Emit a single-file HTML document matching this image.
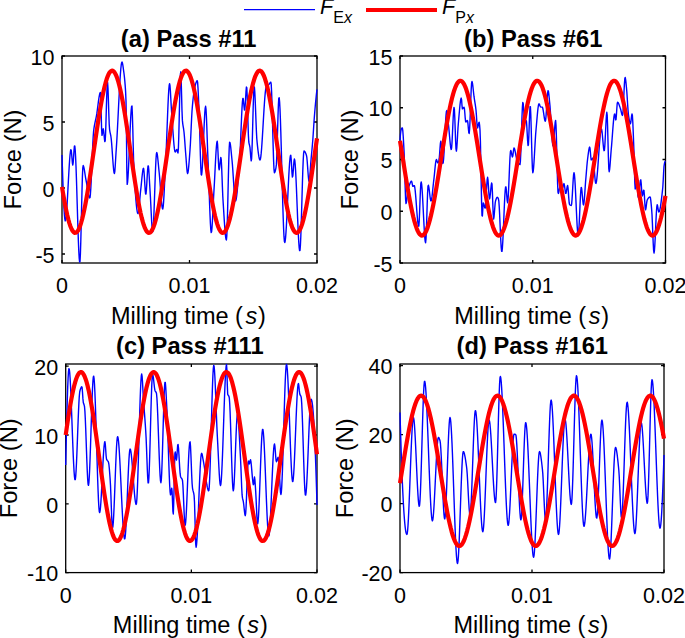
<!DOCTYPE html><html><head><meta charset="utf-8"><style>html,body{margin:0;padding:0;background:#fff;}svg{display:block;}text{font-family:"Liberation Sans",sans-serif;fill:#000;}</style></head><body>
<svg width="685" height="638" viewBox="0 0 685 638">
<rect width="685" height="638" fill="#fff"/>
<clipPath id="clipa"><rect x="59" y="55.5" width="261" height="208"/></clipPath>
<rect x="62" y="56" width="255" height="207" fill="none" stroke="#000" stroke-width="1.3"/>
<path d="M62,263 V260 M62,56 V59 M189.5,263 V260 M189.5,56 V59 M317,263 V260 M317,56 V59 M62,56 H65 M317,56 H314 M62,122 H65 M317,122 H314 M62,188 H65 M317,188 H314 M62,254 H65 M317,254 H314" stroke="#000" stroke-width="1.3" fill="none"/>
<path d="M62,155 L62.4,167.54 L62.8,179.42 L63.2,190.35 L63.6,200.06 L64,208.25 L64.4,214.65 L64.8,218.97 L65.2,220.92 L65.6,220.43 L66,218.03 L66.4,214.04 L66.8,208.75 L67.2,202.46 L67.6,195.47 L68,188.07 L68.4,180.56 L68.8,173.23 L69.2,166.39 L69.6,160.32 L70,155.33 L70.4,151.71 L70.8,149.76 L71.2,150.03 L71.6,153.52 L72,158.54 L72.4,163.04 L72.8,165 L73.2,162.53 L73.6,156.83 L74,150.48 L74.4,146.07 L74.8,145.91 L75.2,149.72 L75.6,156.73 L76,166.29 L76.4,177.78 L76.8,190.55 L77.2,203.95 L77.6,217.35 L78,230.12 L78.4,241.61 L78.8,251.17 L79.2,258.18 L79.6,261.99 L80,261.47 L80.4,254.05 L80.8,241.18 L81.2,224.94 L81.6,207.4 L82,190.65 L82.4,176.74 L82.8,167.76 L83.2,165.53 L83.6,166.3 L84,167.88 L84.4,170.06 L84.8,172.6 L85.2,175.26 L85.6,177.8 L86,180 L86.4,182.12 L86.8,184.49 L87.2,186.99 L87.6,189.5 L88,191.9 L88.4,194.06 L88.8,195.86 L89.2,197.18 L89.6,197.9 L90,197.56 L90.4,194.31 L90.8,188.45 L91.2,180.67 L91.6,171.63 L92,162.02 L92.4,152.5 L92.8,143.75 L93.2,136.46 L93.6,131.28 L94,128.19 L94.4,125.69 L94.8,123.56 L95.2,121.68 L95.6,119.89 L96,118.06 L96.4,116.05 L96.8,113.69 L97.2,110.91 L97.6,107.88 L98,104.74 L98.4,101.65 L98.8,98.78 L99.2,96.27 L99.6,94.28 L100,92.97 L100.4,92.5 L100.8,99.2 L101.2,113.95 L101.6,128.7 L102,135.4 L102.4,133.69 L102.8,130.51 L103.2,128.8 L103.6,130.47 L104,134.3 L104.4,138.58 L104.8,141.55 L105.2,140.91 L105.6,133.32 L106,120.95 L106.4,106.74 L106.8,93.64 L107.2,84.58 L107.6,82.5 L108,88.67 L108.4,100.1 L108.8,113.13 L109.2,124.1 L109.6,129.61 L110,132.06 L110.4,133.85 L110.8,135.76 L111.2,138.6 L111.6,142.85 L112,148.1 L112.4,153.88 L112.8,159.69 L113.2,165.05 L113.6,169.48 L114,172.49 L114.4,173.6 L114.8,171.58 L115.2,166.5 L115.6,159.82 L116,153 L116.4,147.1 L116.8,140.67 L117.2,133.54 L117.6,125.9 L118,117.94 L118.4,109.85 L118.8,101.81 L119.2,94.01 L119.6,86.65 L120,79.9 L120.4,73.96 L120.8,69.01 L121.2,65.24 L121.6,62.84 L122,62 L122.4,62.83 L122.8,64.92 L123.2,67.71 L123.6,70.6 L124,73.51 L124.4,76.86 L124.8,80.85 L125.2,85.65 L125.6,91.64 L126,100.73 L126.4,126.03 L126.8,169.12 L127.2,184.4 L127.6,182.11 L128,177.21 L128.4,170.25 L128.8,161.79 L129.2,152.37 L129.6,142.53 L130,132.83 L130.4,123.82 L130.8,116.05 L131.2,110.05 L131.6,106.39 L132,105.99 L132.4,115.21 L132.8,128.8 L133.2,145.58 L133.6,160.3 L134,168.52 L134.4,176.25 L134.8,183.43 L135.2,189.99 L135.6,195.88 L136,201.04 L136.4,205.4 L136.8,208.89 L137.2,211.47 L137.6,213.06 L138,213.6 L138.4,212.62 L138.8,209.99 L139.2,206.2 L139.6,201.74 L140,197.1 L140.4,192.76 L140.8,189.15 L141.2,185.38 L141.6,181.28 L142,177.19 L142.4,173.49 L142.8,170.52 L143.2,168.66 L143.6,168.34 L144,171.39 L144.4,177.13 L144.8,183.91 L145.2,190.06 L145.6,193.94 L146,193.93 L146.4,189.97 L146.8,183.59 L147.2,176.41 L147.6,170.03 L148,166.07 L148.4,166.06 L148.8,169.93 L149.2,176.22 L149.6,183.42 L150,190 L150.4,196.67 L150.8,204.55 L151.2,212.77 L151.6,220.47 L152,226.77 L152.4,230.79 L152.8,231.65 L153.2,228.39 L153.6,221.56 L154,212.12 L154.4,201 L154.8,189.18 L155.2,177.59 L155.6,167.19 L156,158.94 L156.4,153.77 L156.8,152.56 L157.2,153.92 L157.6,156.71 L158,160.46 L158.4,164.68 L158.8,168.91 L159.2,172.73 L159.6,177.08 L160,182.15 L160.4,187.61 L160.8,193.1 L161.2,198.28 L161.6,202.8 L162,206.31 L162.4,208.47 L162.8,208.9 L163.2,206.62 L163.6,201.83 L164,195.15 L164.4,187.2 L164.8,178.63 L165.2,170.06 L165.6,162.11 L166,154.48 L166.4,145.43 L166.8,135.39 L167.2,124.93 L167.6,114.57 L168,104.88 L168.4,96.39 L168.8,89.65 L169.2,85.2 L169.6,83.6 L170,85.75 L170.4,91.17 L170.8,98.37 L171.2,105.82 L171.6,112 L172,117.36 L172.4,123.15 L172.8,129.1 L173.2,134.91 L173.6,140.3 L174,144.99 L174.4,148.7 L174.8,151.13 L175.2,152 L175.6,151.65 L176,150.86 L176.4,150.02 L176.8,149.52 L177.2,150.14 L177.6,151.95 L178,153 L178.4,148.16 L178.8,135.75 L179.2,118.97 L179.6,101 L180,85.01 L180.4,74.2 L180.8,71.82 L181.2,80.43 L181.6,95.48 L182,110.84 L182.4,120.4 L182.8,124.11 L183.2,126.66 L183.6,128.98 L184,132 L184.4,136.37 L184.8,141.66 L185.2,147.26 L185.6,152.51 L186,157.48 L186.4,163.03 L186.8,168.23 L187.2,172.09 L187.6,173.6 L188,172.57 L188.4,169.77 L188.8,165.67 L189.2,160.7 L189.6,155.33 L190,150 L190.4,143.69 L190.8,135.72 L191.2,127.03 L191.6,118.58 L192,111.31 L192.4,106.08 L192.8,101.84 L193.2,97.97 L193.6,94.52 L194,91.54 L194.4,89.09 L194.8,87.2 L195.2,85.63 L195.6,84.14 L196,82.81 L196.4,81.73 L196.8,80.97 L197.2,80.62 L197.6,82.11 L198,87.9 L198.4,96.35 L198.8,105.62 L199.2,114.8 L199.6,127.29 L200,141.75 L200.4,155.94 L200.8,167.62 L201.2,174.53 L201.6,175.04 L202,171.67 L202.4,165.6 L202.8,157.56 L203.2,148.26 L203.6,138.43 L204,128.78 L204.4,120.02 L204.8,112.88 L205.2,108.06 L205.6,106.3 L206,109.04 L206.4,116.27 L206.8,126.49 L207.2,138.18 L207.6,149.85 L208,160 L208.4,169.81 L208.8,180.94 L209.2,192.64 L209.6,204.13 L210,214.64 L210.4,223.39 L210.8,229.63 L211.2,232.57 L211.6,231.7 L212,227.67 L212.4,221.34 L212.8,213.56 L213.2,205.18 L213.6,197.04 L214,190 L214.4,183.15 L214.8,175.38 L215.2,167.28 L215.6,159.39 L216,152.27 L216.4,146.49 L216.8,142.62 L217.2,141.2 L217.6,144.49 L218,152.22 L218.4,161.15 L218.8,168.07 L219.2,169.89 L219.6,167.6 L220,163.65 L220.4,159.7 L220.8,157.41 L221.2,159.11 L221.6,166 L222,176 L222.4,186.87 L222.8,196.42 L223.2,203.1 L223.6,209.49 L224,215.93 L224.4,222.14 L224.8,227.83 L225.2,232.74 L225.6,236.59 L226,239.1 L226.4,240 L226.8,236.03 L227.2,225.51 L227.6,210.55 L228,193.23 L228.4,175.64 L228.8,159.89 L229.2,148.07 L229.6,142.26 L230,142.52 L230.4,144.62 L230.8,147.87 L231.2,151.83 L231.6,156.03 L232,160 L232.4,164.39 L232.8,169.85 L233.2,175.95 L233.6,182.24 L234,188.26 L234.4,193.59 L234.8,197.77 L235.2,200.37 L235.6,200.96 L236,200.03 L236.4,197.98 L236.8,194.98 L237.2,191.17 L237.6,186.73 L238,181.79 L238.4,176.52 L238.8,171.08 L239.2,165.62 L239.6,160.3 L240,153.87 L240.4,145.5 L240.8,135.97 L241.2,126.07 L241.6,116.58 L242,108.3 L242.4,102 L242.8,98.48 L243.2,98.54 L243.6,101.96 L244,106.54 L244.4,109.96 L244.8,109.83 L245.2,105.29 L245.6,98.45 L246,91.61 L246.4,87.07 L246.8,87.58 L247.2,95.7 L247.6,108.65 L248,122.97 L248.4,135.24 L248.8,142 L249.2,144.09 L249.6,145.54 L250,147.74 L250.4,152.35 L250.8,157.63 L251.2,160.84 L251.6,158.77 L252,150.06 L252.4,136.94 L252.8,121.77 L253.2,106.89 L253.6,94.66 L254,87.42 L254.4,87.07 L254.8,91.91 L255.2,100.18 L255.6,110.46 L256,121.28 L256.4,131.19 L256.8,138.75 L257.2,143.1 L257.6,146.82 L258,150.32 L258.4,153.46 L258.8,156.13 L259.2,158.2 L259.6,159.53 L260,160 L260.4,159.17 L260.8,156.82 L261.2,153.17 L261.6,148.44 L262,142.85 L262.4,136.61 L262.8,129.95 L263.2,123.09 L263.6,116.24 L264,109.63 L264.4,103.46 L264.8,97.97 L265.2,93.37 L265.6,89.88 L266,87.72 L266.4,86.91 L266.8,86.44 L267.2,86.07 L267.6,85.76 L268,85.46 L268.4,85.1 L268.8,84.64 L269.2,84.06 L269.6,83.44 L270,82.86 L270.4,82.43 L270.8,82.21 L271.2,84.08 L271.6,91.61 L272,103.4 L272.4,117.82 L272.8,133.25 L273.2,148.08 L273.6,160.68 L274,169.42 L274.4,172.7 L274.8,172.31 L275.2,171.22 L275.6,169.58 L276,167.53 L276.4,164.39 L276.8,156.08 L277.2,143.82 L277.6,129.76 L278,116.04 L278.4,104.78 L278.8,98.13 L279.2,97.72 L279.6,101.7 L280,109.06 L280.4,119.22 L280.8,131.57 L281.2,145.49 L281.6,160.4 L282,175.69 L282.4,190.75 L282.8,204.98 L283.2,217.77 L283.6,228.54 L284,236.66 L284.4,241.53 L284.8,242.63 L285.2,240.97 L285.6,237.37 L286,232.13 L286.4,225.57 L286.8,217.99 L287.2,209.71 L287.6,201.04 L288,192.29 L288.4,183.78 L288.8,175.81 L289.2,168.7 L289.6,162.76 L290,158.3 L290.4,155.64 L290.8,155.2 L291.2,159.21 L291.6,166.15 L292,173.09 L292.4,177.1 L292.8,176.08 L293.2,171.68 L293.6,166 L294,161.09 L294.4,159 L294.8,160.44 L295.2,164.46 L295.6,170.61 L296,178.44 L296.4,187.51 L296.8,197.36 L297.2,207.55 L297.6,217.63 L298,227.15 L298.4,235.65 L298.8,242.7 L299.2,247.84 L299.6,250.63 L300,250.34 L300.4,245.46 L300.8,236.69 L301.2,225.07 L301.6,211.64 L302,197.43 L302.4,183.48 L302.8,170.83 L303.2,160.5 L303.6,153.55 L304,151 L304.4,151.15 L304.8,151.56 L305.2,152.21 L305.6,153.05 L306,154.06 L306.4,155.2 L306.8,157.17 L307.2,161.27 L307.6,166.64 L308,172.29 L308.4,177.28 L308.8,180.63 L309.2,181.38 L309.6,178.9 L310,174.11 L310.4,168.23 L310.8,162.46 L311.2,157.8 L311.6,153.53 L312,149.29 L312.4,144.85 L312.8,140 L313.2,134.3 L313.6,127.94 L314,121.72 L314.4,116.35 L314.8,111.48 L315.2,106.8 L315.6,102.37 L316,98.22 L316.4,94.41 L316.8,90.97 L317,89.4" fill="none" stroke="#0000ff" stroke-width="1.4" stroke-linejoin="round" clip-path="url(#clipa)"/>
<path d="M62,186.83 L63.06,193.29 L64.12,199.42 L65.19,205.15 L66.25,210.45 L67.31,215.27 L68.38,219.57 L69.44,223.31 L70.5,226.47 L71.56,229.02 L72.62,230.94 L73.69,232.21 L74.75,232.82 L75.81,232.77 L76.88,232.06 L77.94,230.69 L79,228.67 L80.06,226.03 L81.12,222.78 L82.19,218.94 L83.25,214.56 L84.31,209.67 L85.38,204.3 L86.44,198.5 L87.5,192.32 L88.56,185.81 L89.62,179.02 L90.69,172.01 L91.75,164.83 L92.81,157.54 L93.88,150.21 L94.94,142.89 L96,135.65 L97.06,128.53 L98.12,121.6 L99.19,114.93 L100.25,108.55 L101.31,102.52 L102.38,96.9 L103.44,91.73 L104.5,87.05 L105.56,82.9 L106.62,79.31 L107.69,76.31 L108.75,73.93 L109.81,72.19 L110.88,71.09 L111.94,70.66 L113,70.89 L114.06,71.78 L115.12,73.33 L116.19,75.51 L117.25,78.32 L118.31,81.74 L119.38,85.72 L120.44,90.24 L121.5,95.27 L122.56,100.76 L123.62,106.67 L124.69,112.94 L125.75,119.53 L126.81,126.39 L127.88,133.45 L128.94,140.67 L130,147.97 L131.06,155.3 L132.12,162.61 L133.19,169.83 L134.25,176.9 L135.31,183.76 L136.38,190.36 L137.44,196.65 L138.5,202.57 L139.56,208.08 L140.62,213.12 L141.69,217.66 L142.75,221.66 L143.81,225.1 L144.88,227.93 L145.94,230.14 L147,231.71 L148.06,232.62 L149.12,232.88 L150.19,232.47 L151.25,231.4 L152.31,229.68 L153.38,227.32 L154.44,224.34 L155.5,220.77 L156.56,216.64 L157.62,211.98 L158.69,206.82 L159.75,201.21 L160.81,195.2 L161.88,188.84 L162.94,182.17 L164,175.25 L165.06,168.14 L166.12,160.9 L167.19,153.58 L168.25,146.25 L169.31,138.96 L170.38,131.77 L171.44,124.75 L172.5,117.96 L173.56,111.43 L174.62,105.24 L175.69,99.43 L176.75,94.04 L177.81,89.13 L178.88,84.73 L179.94,80.88 L181,77.61 L182.06,74.94 L183.12,72.91 L184.19,71.51 L185.25,70.78 L186.31,70.7 L187.38,71.29 L188.44,72.54 L189.5,74.43 L190.56,76.96 L191.62,80.1 L192.69,83.82 L193.75,88.1 L194.81,92.9 L195.88,98.19 L196.94,103.91 L198,110.02 L199.06,116.47 L200.12,123.21 L201.19,130.19 L202.25,137.34 L203.31,144.61 L204.38,151.94 L205.44,159.27 L206.5,166.53 L207.56,173.68 L208.62,180.64 L209.69,187.37 L210.75,193.81 L211.81,199.9 L212.88,205.6 L213.94,210.86 L215,215.64 L216.06,219.9 L217.12,223.6 L218.19,226.71 L219.25,229.2 L220.31,231.07 L221.38,232.28 L222.44,232.84 L223.5,232.74 L224.56,231.97 L225.62,230.55 L226.69,228.48 L227.75,225.78 L228.81,222.48 L229.88,218.6 L230.94,214.18 L232,209.24 L233.06,203.84 L234.12,198.01 L235.19,191.8 L236.25,185.26 L237.31,178.45 L238.38,171.42 L239.44,164.23 L240.5,156.94 L241.56,149.61 L242.62,142.29 L243.69,135.05 L244.75,127.95 L245.81,121.04 L246.88,114.39 L247.94,108.04 L249,102.05 L250.06,96.46 L251.12,91.33 L252.19,86.69 L253.25,82.58 L254.31,79.04 L255.38,76.09 L256.44,73.76 L257.5,72.07 L258.56,71.03 L259.62,70.65 L260.69,70.94 L261.75,71.88 L262.81,73.48 L263.88,75.72 L264.94,78.58 L266,82.04 L267.06,86.07 L268.12,90.64 L269.19,95.71 L270.25,101.23 L271.31,107.17 L272.38,113.47 L273.44,120.09 L274.5,126.96 L275.56,134.04 L276.62,141.26 L277.69,148.57 L278.75,155.91 L279.81,163.21 L280.88,170.42 L281.94,177.47 L283,184.32 L284.06,190.89 L285.12,197.15 L286.19,203.04 L287.25,208.51 L288.31,213.51 L289.38,218.01 L290.44,221.97 L291.5,225.35 L292.56,228.13 L293.62,230.29 L294.69,231.81 L295.75,232.67 L296.81,232.87 L297.88,232.4 L298.94,231.28 L300,229.51 L301.06,227.1 L302.12,224.07 L303.19,220.45 L304.25,216.28 L305.31,211.57 L306.38,206.37 L307.44,200.73 L308.5,194.69 L309.56,188.3 L310.62,181.61 L311.69,174.67 L312.75,167.55 L313.81,160.3 L314.88,152.97 L315.94,145.64 L317,138.36" fill="none" stroke="#ff0000" stroke-width="4.2" stroke-linejoin="round" clip-path="url(#clipa)"/>
<text x="54.5" y="64.7" font-size="21.5" text-anchor="end">10</text>
<text x="54.5" y="130.7" font-size="21.5" text-anchor="end">5</text>
<text x="54.5" y="196.7" font-size="21.5" text-anchor="end">0</text>
<text x="54.5" y="262.7" font-size="21.5" text-anchor="end">-5</text>
<text x="62" y="293.4" font-size="21.5" text-anchor="middle">0</text>
<text x="189.5" y="293.4" font-size="21.5" text-anchor="middle">0.01</text>
<text x="317" y="293.4" font-size="21.5" text-anchor="middle">0.02</text>
<text x="111" y="323.8" font-size="23.5">Milling time <tspan dx="0">(</tspan><tspan font-style="italic" dx="2.6">s</tspan><tspan dx="0.8">)</tspan></text>
<text transform="translate(21,159.5) rotate(-90)" font-size="23.7" text-anchor="middle">Force (N)</text>
<text x="188.7" y="46.5" font-size="23.7" font-weight="bold" text-anchor="middle">(a) Pass #11</text>
<clipPath id="clipb"><rect x="397" y="55.5" width="271.5" height="208"/></clipPath>
<rect x="400" y="56" width="265.5" height="207" fill="none" stroke="#000" stroke-width="1.3"/>
<path d="M400,263 V260 M400,56 V59 M532.75,263 V260 M532.75,56 V59 M665.5,263 V260 M665.5,56 V59 M400,56 H403 M665.5,56 H662.5 M400,107.75 H403 M665.5,107.75 H662.5 M400,159.5 H403 M665.5,159.5 H662.5 M400,211.25 H403 M665.5,211.25 H662.5 M400,263 H403 M665.5,263 H662.5" stroke="#000" stroke-width="1.3" fill="none"/>
<path d="M400,140.4 L400.4,135.02 L400.8,131.46 L401.2,129.34 L401.6,128.29 L402,127.94 L402.4,128.02 L402.8,130.71 L403.2,136.03 L403.6,142.85 L404,150 L404.4,160.01 L404.8,173.86 L405.2,188.06 L405.6,199.14 L406,203.6 L406.4,202.47 L406.8,199.68 L407.2,196.09 L407.6,192.57 L408,190 L408.4,188.31 L408.8,186.83 L409.2,185.57 L409.6,184.5 L410,183.5 L410.4,182.51 L410.8,181.68 L411.2,181.14 L411.6,181.08 L412,182.57 L412.4,184.83 L412.8,186.32 L413.2,186.28 L413.6,185.9 L414,185.56 L414.4,185.74 L414.8,187.49 L415.2,190.66 L415.6,194.91 L416,199.9 L416.4,205.27 L416.8,210.68 L417.2,215.8 L417.6,220.26 L418,223.74 L418.4,225.88 L418.8,226.17 L419.2,221.4 L419.6,212.29 L420,201.32 L420.4,190.97 L420.8,183.72 L421.2,181.89 L421.6,183.89 L422,188.13 L422.4,194.11 L422.8,201.31 L423.2,209.21 L423.6,217.3 L424,225.08 L424.4,232.02 L424.8,237.61 L425.2,241.34 L425.6,242.7 L426,239.02 L426.4,229.67 L426.8,217.17 L427.2,204.04 L427.6,192.8 L428,185.97 L428.4,185.23 L428.8,186.89 L429.2,189.66 L429.6,193 L430,196.34 L430.4,199.11 L430.8,200.77 L431.2,200.8 L431.6,199.3 L432,196.64 L432.4,193.19 L432.8,189.3 L433.2,185.33 L433.6,181.63 L434,178.34 L434.4,174.5 L434.8,170.32 L435.2,166.28 L435.6,162.82 L436,160.41 L436.4,159.5 L436.8,160.19 L437.2,161.62 L437.6,162.81 L438,162.89 L438.4,162.08 L438.8,160.76 L439.2,158.74 L439.6,154.09 L440,148.27 L440.4,143.3 L440.8,141.2 L441.2,143.33 L441.6,148.48 L442,154.78 L442.4,160.4 L442.8,163.45 L443.2,162.66 L443.6,158.86 L444,152.83 L444.4,145.31 L444.8,137.05 L445.2,128.79 L445.6,121.27 L446,115.24 L446.4,111.44 L446.8,110.59 L447.2,112.4 L447.6,115.87 L448,120.08 L448.4,124.12 L448.8,127.78 L449.2,132.12 L449.6,136.76 L450,141.26 L450.4,145.18 L450.8,148.05 L451.2,149.44 L451.6,148.15 L452,142.89 L452.4,135.04 L452.8,126.09 L453.2,117.5 L453.6,110.76 L454,107.36 L454.4,109.43 L454.8,117.73 L455.2,129.2 L455.6,140.67 L456,148.97 L456.4,151.05 L456.8,147.92 L457.2,141.94 L457.6,134.69 L458,127.79 L458.4,122.71 L458.8,118.16 L459.2,113.5 L459.6,108.99 L460,104.91 L460.4,101.54 L460.8,99.17 L461.2,98.05 L461.6,99.97 L462,105.55 L462.4,108.8 L462.8,108.58 L463.2,108.07 L463.6,107.53 L464,107.22 L464.4,108.43 L464.8,112.7 L465.2,117.84 L465.6,121.53 L466,122.03 L466.4,121.56 L466.8,120.94 L467.2,120.47 L467.6,120.91 L468,124.2 L468.4,128.79 L468.8,132.6 L469.2,133.5 L469.6,129.29 L470,120.96 L470.4,110.35 L470.8,99.27 L471.2,89.57 L471.6,83.07 L472,81.46 L472.4,82.87 L472.8,85.66 L473.2,89.25 L473.6,93.05 L474,96.47 L474.4,99.19 L474.8,101.65 L475.2,104.12 L475.6,106.82 L476,110 L476.4,115.03 L476.8,121.42 L477.2,126.55 L477.6,127.93 L478,126.63 L478.4,124.5 L478.8,122.64 L479.2,122.24 L479.6,125.08 L480,130 L480.4,141.14 L480.8,160.51 L481.2,182.86 L481.6,202.93 L482,215.48 L482.4,216.03 L482.8,209.01 L483.2,203.04 L483.6,203.11 L484,204.55 L484.4,206.35 L484.8,207.79 L485.2,208.06 L485.6,204.99 L486,199.07 L486.4,191.82 L486.8,184.77 L487.2,179.42 L487.6,177.3 L488,179.78 L488.4,185.6 L488.8,192.33 L489.2,197.55 L489.6,198.91 L490,197.02 L490.4,193.47 L490.8,189.26 L491.2,185.45 L491.6,183.05 L492,183.94 L492.4,192.11 L492.8,203.86 L493.2,214.42 L493.6,219 L494,217.17 L494.4,212.77 L494.8,207.47 L495.2,202.92 L495.6,200.67 L496,199.43 L496.4,198.39 L496.8,197.66 L497.2,197.32 L497.6,197.44 L498,197.97 L498.4,198.77 L498.8,200.8 L499.2,206.12 L499.6,213.81 L500,222.84 L500.4,232.14 L500.8,240.68 L501.2,247.4 L501.6,251.27 L502,251.33 L502.4,247.83 L502.8,241.58 L503.2,233.37 L503.6,223.99 L504,214.21 L504.4,204.83 L504.8,196.62 L505.2,190.37 L505.6,186.87 L506,186.96 L506.4,190.63 L506.8,195.9 L507.2,200.64 L507.6,202.7 L508,200.31 L508.4,194.03 L508.8,185.22 L509.2,175.23 L509.6,165.41 L510,157.11 L510.4,151.68 L510.8,150.36 L511.2,151.56 L511.6,153.65 L512,155.74 L512.4,156.94 L512.8,156.06 L513.2,152.95 L513.6,149.58 L514,148 L514.4,148.48 L514.8,149.76 L515.2,151.6 L515.6,153.73 L516,155.92 L516.4,157.91 L516.8,159.47 L517.2,160.44 L517.6,161.31 L518,162.14 L518.4,162.89 L518.8,163.54 L519.2,164.05 L519.6,164.38 L520,164.5 L520.4,161.27 L520.8,152.89 L521.2,141.33 L521.6,128.53 L522,116.48 L522.4,107.12 L522.8,102.42 L523.2,103.53 L523.6,108.28 L524,114.43 L524.4,119.74 L524.8,122 L525.2,121.68 L525.6,121.03 L526,120.49 L526.4,121.12 L526.8,125.97 L527.2,133.3 L527.6,140.63 L528,145.48 L528.4,145.06 L528.8,137.41 L529.2,125.85 L529.6,114.29 L530,106.64 L530.4,106.63 L530.8,114.58 L531.2,127.68 L531.6,142.97 L532,157.53 L532.4,168.42 L532.8,172.7 L533.2,171.33 L533.6,167.61 L534,162.15 L534.4,155.56 L534.8,148.45 L535.2,141.41 L535.6,135.06 L536,130 L536.4,125.56 L536.8,120.87 L537.2,116.23 L537.6,111.92 L538,108.25 L538.4,105.51 L538.8,104 L539.2,103.92 L539.6,104.68 L540,105.76 L540.4,106.69 L540.8,107.02 L541.2,107.08 L541.6,107.11 L542,107.15 L542.4,107.27 L542.8,108.32 L543.2,110.34 L543.6,112.94 L544,115.72 L544.4,118.3 L544.8,120.27 L545.2,121.25 L545.6,120.32 L546,116.49 L546.4,110.77 L546.8,104.25 L547.2,98 L547.6,93.1 L548,90.62 L548.4,91.2 L548.8,93.86 L549.2,97.74 L549.6,101.99 L550,106.13 L550.4,111.52 L550.8,117.92 L551.2,124.78 L551.6,131.52 L552,137.6 L552.4,142.43 L552.8,145.45 L553.2,146.08 L553.6,143.52 L554,138.58 L554.4,132.53 L554.8,126.63 L555.2,122.17 L555.6,120.4 L556,125.06 L556.4,136.93 L556.8,152.79 L557.2,169.44 L557.6,183.7 L558,192.37 L558.4,193.43 L558.8,192.22 L559.2,190.22 L559.6,187.85 L560,185.53 L560.4,183.68 L560.8,182.74 L561.2,183.19 L561.6,184.86 L562,186.77 L562.4,187.94 L562.8,187.54 L563.2,186.02 L563.6,184.37 L564,183.6 L564.4,184.86 L564.8,187.77 L565.2,191.01 L565.6,193.26 L566,193.32 L566.4,191.5 L566.8,188.88 L567.2,186.52 L567.6,185.5 L568,187.6 L568.4,192.57 L568.8,198.37 L569.2,203.01 L569.6,204.6 L570,204.96 L570.4,205.23 L570.8,205.42 L571.2,205.5 L571.6,204.38 L572,200.03 L572.4,193.6 L572.8,186.38 L573.2,179.63 L573.6,174.65 L574,172.7 L574.4,174.3 L574.8,178.67 L575.2,185.15 L575.6,193.1 L576,201.86 L576.4,210.78 L576.8,219.22 L577.2,226.52 L577.6,232.02 L578,235.09 L578.4,234.92 L578.8,230.78 L579.2,223.69 L579.6,214.89 L580,205.62 L580.4,197.13 L580.8,190.66 L581.2,187.45 L581.6,188.2 L582,191.54 L582.4,196.15 L582.8,200.76 L583.2,204.1 L583.6,204.9 L584,202.8 L584.4,198.57 L584.8,193.05 L585.2,187.06 L585.6,181.42 L586,176.69 L586.4,171.84 L586.8,167.01 L587.2,162.59 L587.6,159 L588,155.86 L588.4,152.77 L588.8,150.05 L589.2,148.03 L589.6,147.04 L590,148.2 L590.4,152.29 L590.8,156.98 L591.2,159.85 L591.6,159.84 L592,159.26 L592.4,158.57 L592.8,158.08 L593.2,158.37 L593.6,161.02 L594,165.46 L594.4,170.8 L594.8,176.14 L595.2,180.58 L595.6,183.23 L596,183.4 L596.4,181.85 L596.8,178.98 L597.2,175.04 L597.6,170.25 L598,164.87 L598.4,159.13 L598.8,153.27 L599.2,147.53 L599.6,142.15 L600,137.36 L600.4,133.42 L600.8,130.55 L601.2,129 L601.6,129.12 L602,131.42 L602.4,135.27 L602.8,139.9 L603.2,144.53 L603.6,148.38 L604,150.68 L604.4,150.39 L604.8,146.09 L605.2,138.94 L605.6,130.47 L606,122.19 L606.4,115.61 L606.8,112.26 L607.2,115.13 L607.6,126.39 L608,141.95 L608.4,157.51 L608.8,168.77 L609.2,171.71 L609.6,169.68 L610,165.63 L610.4,160.4 L610.8,154.84 L611.2,149.79 L611.6,145.34 L612,140.28 L612.4,134.87 L612.8,129.45 L613.2,124.34 L613.6,119.89 L614,116.44 L614.4,114.32 L614.8,113.95 L615.2,116.65 L615.6,119.82 L616,119.7 L616.4,115.2 L616.8,108.92 L617.2,103.7 L617.6,102.21 L618,102.5 L618.4,103.12 L618.8,103.98 L619.2,105.03 L619.6,106.19 L620,107.38 L620.4,108.53 L620.8,109.79 L621.2,111.48 L621.6,113.25 L622,114.71 L622.4,115.46 L622.8,114.09 L623.2,108.68 L623.6,100.77 L624,92.03 L624.4,84.12 L624.8,78.71 L625.2,77.39 L625.6,79.32 L626,82.9 L626.4,87.02 L626.8,91.46 L627.2,97.35 L627.6,103.79 L628,109.75 L628.4,114.23 L628.8,117.05 L629.2,119.62 L629.6,121.77 L630,123.25 L630.4,123.8 L630.8,122.4 L631.2,119.24 L631.6,115.89 L632,113.9 L632.4,115.5 L632.8,122.01 L633.2,131.53 L633.6,142.02 L634,152.83 L634.4,168.2 L634.8,182.62 L635.2,189 L635.6,187.91 L636,185.5 L636.4,183.09 L636.8,182 L637.2,184.75 L637.6,190.63 L638,196.07 L638.4,197.61 L638.8,195.67 L639.2,191.97 L639.6,187.52 L640,183.32 L640.4,180.38 L640.8,179.78 L641.2,183.4 L641.6,189.33 L642,194.49 L642.4,195.92 L642.8,194.39 L643.2,191.98 L643.6,190.1 L644,190.57 L644.4,195.57 L644.8,202.55 L645.2,208.33 L645.6,209.91 L646,208.11 L646.4,204.99 L646.8,201.85 L647.2,200 L647.6,199.27 L648,198.61 L648.4,198.05 L648.8,197.59 L649.2,197.24 L649.6,197.01 L650,196.9 L650.4,197.6 L650.8,200.31 L651.2,204.33 L651.6,208.87 L652,214.53 L652.4,223.29 L652.8,233.43 L653.2,243.03 L653.6,250.19 L654,253 L654.4,250.92 L654.8,245.45 L655.2,237.72 L655.6,228.85 L656,219.98 L656.4,212.25 L656.8,206.78 L657.2,204.7 L657.6,205.84 L658,208.35 L658.4,210.86 L658.8,212 L659.2,211.65 L659.6,210.64 L660,209.05 L660.4,206.94 L660.8,204.38 L661.2,201.45 L661.6,198.21 L662,194.74 L662.4,191.1 L662.8,187.21 L663.2,180.62 L663.6,172.68 L664,166.34 L664.4,163.79 L664.8,162.24 L665.2,161.25 L665.5,161" fill="none" stroke="#0000ff" stroke-width="1.4" stroke-linejoin="round" clip-path="url(#clipb)"/>
<path d="M400,140.82 L401.11,147.7 L402.21,154.67 L403.32,161.67 L404.43,168.65 L405.53,175.53 L406.64,182.27 L407.74,188.82 L408.85,195.11 L409.96,201.11 L411.06,206.75 L412.17,211.99 L413.27,216.8 L414.38,221.12 L415.49,224.94 L416.59,228.2 L417.7,230.89 L418.81,232.99 L419.91,234.47 L421.02,235.34 L422.12,235.57 L423.23,235.16 L424.34,234.13 L425.44,232.48 L426.55,230.22 L427.66,227.37 L428.76,223.95 L429.87,220 L430.98,215.54 L432.08,210.61 L433.19,205.26 L434.29,199.52 L435.4,193.44 L436.51,187.07 L437.61,180.46 L438.72,173.67 L439.82,166.76 L440.93,159.78 L442.04,152.78 L443.14,145.82 L444.25,138.97 L445.36,132.28 L446.46,125.79 L447.57,119.57 L448.68,113.67 L449.78,108.13 L450.89,102.99 L451.99,98.31 L453.1,94.12 L454.21,90.45 L455.31,87.34 L456.42,84.8 L457.52,82.87 L458.63,81.54 L459.74,80.85 L460.84,80.79 L461.95,81.36 L463.06,82.56 L464.16,84.37 L465.27,86.79 L466.38,89.79 L467.48,93.35 L468.59,97.44 L469.69,102.03 L470.8,107.08 L471.91,112.54 L473.01,118.38 L474.12,124.54 L475.23,130.98 L476.33,137.63 L477.44,144.46 L478.54,151.4 L479.65,158.39 L480.76,165.38 L481.86,172.32 L482.97,179.13 L484.07,185.78 L485.18,192.2 L486.29,198.34 L487.39,204.15 L488.5,209.59 L489.61,214.6 L490.71,219.16 L491.82,223.21 L492.93,226.74 L494.03,229.7 L495.14,232.08 L496.24,233.85 L497.35,235.01 L498.46,235.54 L499.56,235.43 L500.67,234.69 L501.77,233.33 L502.88,231.35 L503.99,228.78 L505.09,225.62 L506.2,221.92 L507.31,217.69 L508.41,212.98 L509.52,207.82 L510.62,202.25 L511.73,196.33 L512.84,190.09 L513.94,183.59 L515.05,176.88 L516.16,170.02 L517.26,163.06 L518.37,156.06 L519.48,149.08 L520.58,142.17 L521.69,135.39 L522.79,128.8 L523.9,122.45 L525.01,116.39 L526.11,110.68 L527.22,105.35 L528.33,100.45 L529.43,96.02 L530.54,92.11 L531.64,88.73 L532.75,85.92 L533.86,83.7 L534.96,82.09 L536.07,81.1 L537.17,80.74 L538.28,81.01 L539.39,81.92 L540.49,83.44 L541.6,85.58 L542.71,88.31 L543.81,91.62 L544.92,95.46 L546.02,99.82 L547.13,104.66 L548.24,109.93 L549.34,115.6 L550.45,121.61 L551.56,127.93 L552.66,134.49 L553.77,141.24 L554.88,148.13 L555.98,155.11 L557.09,162.11 L558.19,169.08 L559.3,175.95 L560.41,182.69 L561.51,189.22 L562.62,195.5 L563.73,201.47 L564.83,207.09 L565.94,212.31 L567.04,217.08 L568.15,221.38 L569.26,225.15 L570.36,228.38 L571.47,231.04 L572.58,233.1 L573.68,234.55 L574.79,235.37 L575.89,235.56 L577,235.12 L578.11,234.05 L579.21,232.36 L580.32,230.06 L581.42,227.17 L582.53,223.72 L583.64,219.74 L584.74,215.25 L585.85,210.29 L586.96,204.91 L588.06,199.15 L589.17,193.05 L590.27,186.66 L591.38,180.05 L592.49,173.25 L593.59,166.33 L594.7,159.34 L595.81,152.34 L596.91,145.4 L598.02,138.55 L599.12,131.87 L600.23,125.4 L601.34,119.19 L602.44,113.31 L603.55,107.79 L604.66,102.69 L605.76,98.04 L606.87,93.88 L607.98,90.24 L609.08,87.16 L610.19,84.66 L611.29,82.77 L612.4,81.48 L613.51,80.83 L614.61,80.8 L615.72,81.41 L616.83,82.65 L617.93,84.5 L619.04,86.96 L620.14,90 L621.25,93.59 L622.36,97.71 L623.46,102.33 L624.57,107.4 L625.67,112.89 L626.78,118.75 L627.89,124.93 L628.99,131.38 L630.1,138.05 L631.21,144.89 L632.31,151.83 L633.42,158.83 L634.52,165.82 L635.63,172.74 L636.74,179.55 L637.84,186.18 L638.95,192.59 L640.06,198.71 L641.16,204.5 L642.27,209.91 L643.38,214.9 L644.48,219.43 L645.59,223.45 L646.69,226.94 L647.8,229.87 L648.91,232.21 L650.01,233.94 L651.12,235.06 L652.23,235.55 L653.33,235.4 L654.44,234.63 L655.54,233.23 L656.65,231.21 L657.76,228.6 L658.86,225.41 L659.97,221.67 L661.08,217.41 L662.18,212.67 L663.29,207.49 L664.39,201.89 L665.5,195.95" fill="none" stroke="#ff0000" stroke-width="4.2" stroke-linejoin="round" clip-path="url(#clipb)"/>
<text x="392.5" y="64.7" font-size="21.5" text-anchor="end">15</text>
<text x="392.5" y="116.45" font-size="21.5" text-anchor="end">10</text>
<text x="392.5" y="168.2" font-size="21.5" text-anchor="end">5</text>
<text x="392.5" y="219.95" font-size="21.5" text-anchor="end">0</text>
<text x="392.5" y="271.7" font-size="21.5" text-anchor="end">-5</text>
<text x="400" y="293.4" font-size="21.5" text-anchor="middle">0</text>
<text x="532.75" y="293.4" font-size="21.5" text-anchor="middle">0.01</text>
<text x="665.5" y="293.4" font-size="21.5" text-anchor="middle">0.02</text>
<text x="454.25" y="323.8" font-size="23.5">Milling time <tspan dx="0">(</tspan><tspan font-style="italic" dx="2.6">s</tspan><tspan dx="0.8">)</tspan></text>
<text transform="translate(358.2,159.5) rotate(-90)" font-size="23.7" text-anchor="middle">Force (N)</text>
<text x="533.25" y="46.5" font-size="23.7" font-weight="bold" text-anchor="middle">(b) Pass #61</text>
<clipPath id="clipc"><rect x="62.7" y="363.5" width="257.3" height="209.6"/></clipPath>
<rect x="65.7" y="364" width="251.3" height="208.6" fill="none" stroke="#000" stroke-width="1.3"/>
<path d="M65.7,572.6 V569.6 M65.7,364 V367 M191.35,572.6 V569.6 M191.35,364 V367 M317,572.6 V569.6 M317,364 V367 M65.7,366.2 H68.7 M317,366.2 H314 M65.7,435 H68.7 M317,435 H314 M65.7,503.8 H68.7 M317,503.8 H314 M65.7,572.6 H68.7 M317,572.6 H314" stroke="#000" stroke-width="1.3" fill="none"/>
<path d="M65.7,465 L66.1,446.9 L66.5,429.65 L66.9,413.68 L67.3,399.44 L67.7,387.37 L68.1,377.92 L68.5,371.52 L68.9,368.63 L69.3,369.28 L69.7,372.57 L70.1,378.07 L70.5,385.41 L70.9,394.21 L71.3,404.1 L71.7,414.7 L72.1,425.62 L72.5,436.5 L72.9,446.95 L73.3,456.6 L73.7,465.08 L74.1,471.99 L74.5,476.98 L74.9,479.65 L75.3,479.58 L75.7,476.39 L76.1,470.57 L76.5,462.67 L76.9,453.24 L77.3,442.86 L77.7,432.09 L78.1,421.48 L78.5,411.61 L78.9,403.02 L79.3,396.29 L79.7,391.98 L80.1,390.23 L80.5,388.99 L80.9,387.95 L81.3,387.18 L81.7,386.76 L82.1,387.46 L82.5,392.22 L82.9,398.4 L83.3,402.5 L83.7,403.86 L84.1,404.82 L84.5,406.49 L84.9,411.12 L85.3,418.72 L85.7,428.44 L86.1,439.45 L86.5,450.91 L86.9,461.97 L87.3,471.78 L87.7,479.51 L88.1,484.32 L88.5,485.38 L88.9,482.66 L89.3,476.8 L89.7,468.39 L90.1,458.04 L90.5,446.35 L90.9,433.91 L91.3,421.32 L91.7,409.17 L92.1,398.08 L92.5,388.63 L92.9,381.42 L93.3,377.05 L93.7,376.11 L94.1,378.69 L94.5,384.3 L94.9,392.47 L95.3,402.7 L95.7,414.52 L96.1,427.42 L96.5,440.93 L96.9,454.57 L97.3,467.84 L97.7,480.26 L98.1,491.34 L98.5,500.6 L98.9,507.55 L99.3,511.71 L99.7,512.63 L100.1,510.92 L100.5,507.25 L100.9,501.97 L101.3,495.45 L101.7,488.06 L102.1,480.17 L102.5,472.13 L102.9,464.33 L103.3,457.13 L103.7,450.88 L104.1,445.97 L104.5,442.75 L104.9,441.6 L105.3,444.1 L105.7,449.71 L106.1,455.62 L106.5,459 L106.9,459.91 L107.3,460.45 L107.7,460.87 L108.1,461.4 L108.5,462.3 L108.9,464.47 L109.3,468.29 L109.7,473.2 L110.1,478.63 L110.5,485.35 L110.9,495.31 L111.3,506.63 L111.7,517.25 L112.1,525.12 L112.5,528.2 L112.9,526.6 L113.3,522.15 L113.7,515.37 L114.1,506.81 L114.5,496.99 L114.9,486.44 L115.3,475.69 L115.7,465.27 L116.1,455.71 L116.5,447.55 L116.9,441.3 L117.3,437.51 L117.7,436.66 L118.1,438.05 L118.5,441.12 L118.9,445.65 L119.3,451.41 L119.7,458.2 L120.1,465.78 L120.5,473.93 L120.9,482.45 L121.3,491.1 L121.7,499.66 L122.1,507.93 L122.5,515.67 L122.9,522.68 L123.3,528.72 L123.7,533.57 L124.1,537.03 L124.5,538.86 L124.9,538.74 L125.3,536.01 L125.7,530.97 L126.1,524.07 L126.5,515.74 L126.9,506.42 L127.3,496.55 L127.7,486.57 L128.1,476.92 L128.5,468.04 L128.9,460.37 L129.3,454.35 L129.7,450.41 L130.1,449 L130.5,449.68 L130.9,451.61 L131.3,454.6 L131.7,458.45 L132.1,462.99 L132.5,468.01 L132.9,473.35 L133.3,478.8 L133.7,484.17 L134.1,489.3 L134.5,493.97 L134.9,498.01 L135.3,501.23 L135.7,503.44 L136.1,504.46 L136.5,503.38 L136.9,498.7 L137.3,490.93 L137.7,480.67 L138.1,468.54 L138.5,455.12 L138.9,441.03 L139.3,426.86 L139.7,413.22 L140.1,400.71 L140.5,389.93 L140.9,381.48 L141.3,375.97 L141.7,374 L142.1,376.29 L142.5,382.02 L142.9,389.44 L143.3,396.85 L143.7,402.82 L144.1,408.25 L144.5,413.57 L144.9,418.97 L145.3,424.62 L145.7,430.72 L146.1,437.8 L146.5,447.42 L146.9,458.38 L147.3,469.03 L147.7,477.74 L148.1,482.88 L148.5,482.91 L148.9,477.81 L149.3,468.62 L149.7,456.39 L150.1,442.18 L150.5,427.04 L150.9,412.04 L151.3,398.23 L151.7,386.66 L152.1,378.39 L152.5,374.47 L152.9,374.89 L153.3,377.17 L153.7,380.52 L154.1,384.28 L154.5,387.74 L154.9,390.23 L155.3,391.26 L155.7,391.74 L156.1,392.22 L156.5,393.51 L156.9,397.82 L157.3,404.91 L157.7,414.09 L158.1,424.7 L158.5,436.07 L158.9,447.53 L159.3,458.4 L159.7,468.03 L160.1,475.73 L160.5,480.85 L160.9,482.7 L161.3,480.13 L161.7,473.11 L162.1,462.7 L162.5,449.93 L162.9,435.85 L163.3,421.51 L163.7,407.96 L164.1,396.24 L164.5,387.39 L164.9,382.46 L165.3,382.41 L165.7,386.71 L166.1,393.71 L166.5,401.76 L166.9,409.36 L167.3,418.35 L167.7,429.22 L168.1,441.22 L168.5,453.6 L168.9,465.61 L169.3,476.49 L169.7,485.49 L170.1,491.87 L170.5,494.87 L170.9,493.91 L171.3,490.63 L171.7,488.14 L172.1,491.13 L172.5,501.25 L172.9,511.37 L173.3,513.99 L173.7,503.71 L174.1,485.48 L174.5,466.38 L174.9,453.45 L175.3,451.97 L175.7,454.85 L176.1,458.31 L176.5,460 L176.9,456.83 L177.3,450.3 L177.7,444.89 L178.1,444.5 L178.5,448.04 L178.9,453.94 L179.3,460.96 L179.7,467.87 L180.1,473.43 L180.5,476.4 L180.9,477.38 L181.3,477.99 L181.7,478.5 L182.1,479.19 L182.5,480.48 L182.9,485.18 L183.3,493.1 L183.7,502.62 L184.1,512.16 L184.5,520.1 L184.9,524.83 L185.3,525.09 L185.7,522.03 L186.1,516.44 L186.5,508.87 L186.9,499.85 L187.3,489.95 L187.7,479.7 L188.1,469.66 L188.5,460.37 L188.9,452.39 L189.3,446.25 L189.7,442.5 L190.1,441.8 L190.5,446.08 L190.9,454.42 L191.3,464.79 L191.7,475.17 L192.1,483.55 L192.5,488.03 L192.9,490.18 L193.3,491.67 L193.7,493.23 L194.1,495.59 L194.5,501.96 L194.9,515.75 L195.3,531.62 L195.7,543.89 L196.1,547.21 L196.5,545.18 L196.9,540.79 L197.3,534.44 L197.7,526.55 L198.1,517.53 L198.5,507.78 L198.9,497.73 L199.3,487.78 L199.7,478.35 L200.1,469.84 L200.5,462.67 L200.9,457.24 L201.3,453.98 L201.7,453.25 L202.1,454.26 L202.5,456.2 L202.9,458.52 L203.3,460.7 L203.7,462.83 L204.1,465.3 L204.5,468.02 L204.9,470.91 L205.3,473.89 L205.7,476.87 L206.1,479.78 L206.5,482.51 L206.9,485 L207.3,487.16 L207.7,488.91 L208.1,490.15 L208.5,490.81 L208.9,490.34 L209.3,486.09 L209.7,478.3 L210.1,467.68 L210.5,454.98 L210.9,440.91 L211.3,426.2 L211.7,411.59 L212.1,397.79 L212.5,385.54 L212.9,375.56 L213.3,368.59 L213.7,365.34 L214.1,366.22 L214.5,370.42 L214.9,377.23 L215.3,386 L215.7,396.05 L216.1,406.7 L216.5,417.29 L216.9,427.14 L217.3,435.59 L217.7,442.93 L218.1,450.97 L218.5,459.26 L218.9,467.26 L219.3,474.42 L219.7,480.21 L220.1,484.09 L220.5,485.5 L220.9,484 L221.3,479.79 L221.7,473.27 L222.1,464.86 L222.5,454.96 L222.9,443.98 L223.3,432.33 L223.7,420.43 L224.1,408.69 L224.5,397.5 L224.9,387.29 L225.3,378.47 L225.7,371.44 L226.1,366.61 L226.5,364.4 L226.9,369.55 L227.3,384.65 L227.7,394.2 L228.1,395.17 L228.5,395.66 L228.9,396.22 L229.3,397.85 L229.7,403.19 L230.1,411.86 L230.5,422.92 L230.9,435.48 L231.3,448.61 L231.7,461.4 L232.1,472.93 L232.5,482.31 L232.9,488.6 L233.3,490.9 L233.7,488.95 L234.1,483.61 L234.5,475.69 L234.9,465.99 L235.3,455.29 L235.7,444.39 L236.1,434.09 L236.5,425.17 L236.9,418.45 L237.3,414.71 L237.7,414.54 L238.1,417.05 L238.5,421.61 L238.9,427.73 L239.3,434.92 L239.7,442.69 L240.1,450.54 L240.5,458 L240.9,466.74 L241.3,477.28 L241.7,487.42 L242.1,494.93 L242.5,498.17 L242.9,499.75 L243.3,501.4 L243.7,504.25 L244.1,507.96 L244.5,511.69 L244.9,514.55 L245.3,515.7 L245.7,513.2 L246.1,506.65 L246.5,497.46 L246.9,487.03 L247.3,476.77 L247.7,468.11 L248.1,462.44 L248.5,461.08 L248.9,462.5 L249.3,463.92 L249.7,463.05 L250.1,460.55 L250.5,459.68 L250.9,461.37 L251.3,464.78 L251.7,469.25 L252.1,474.14 L252.5,478.78 L252.9,482.51 L253.3,484.7 L253.7,484.17 L254.1,479.82 L254.5,477 L254.9,479.64 L255.3,485.45 L255.7,491.48 L256.1,499.17 L256.5,508.19 L256.9,516.6 L257.3,522.46 L257.7,523.89 L258.1,521.44 L258.5,516.18 L258.9,508.65 L259.3,499.4 L259.7,488.98 L260.1,477.95 L260.5,466.84 L260.9,456.22 L261.3,446.63 L261.7,438.61 L262.1,432.73 L262.5,429.53 L262.9,429.44 L263.3,432 L263.7,436.78 L264.1,443.41 L264.5,451.53 L264.9,460.78 L265.3,470.81 L265.7,481.24 L266.1,491.71 L266.5,501.87 L266.9,511.35 L267.3,519.79 L267.7,526.83 L268.1,532.1 L268.5,535.25 L268.9,535.92 L269.3,534 L269.7,529.84 L270.1,523.83 L270.5,516.33 L270.9,507.74 L271.3,498.43 L271.7,488.79 L272.1,479.2 L272.5,470.03 L272.9,461.68 L273.3,454.52 L273.7,448.93 L274.1,445.3 L274.5,444 L274.9,446.03 L275.3,450.81 L275.7,456.33 L276.1,460.61 L276.5,461.76 L276.9,460.95 L277.3,459.55 L277.7,458.15 L278.1,457.34 L278.5,458.58 L278.9,463.5 L279.3,470.79 L279.7,478.99 L280.1,486.64 L280.5,492.29 L280.9,494.5 L281.3,492.6 L281.7,487.29 L282.1,479.13 L282.5,468.69 L282.9,456.54 L283.3,443.26 L283.7,429.4 L284.1,415.54 L284.5,402.26 L284.9,390.11 L285.3,379.67 L285.7,371.51 L286.1,366.2 L286.5,364.3 L286.9,365.7 L287.3,369.66 L287.7,375.8 L288.1,383.74 L288.5,393.09 L288.9,403.49 L289.3,414.55 L289.7,425.89 L290.1,437.14 L290.5,447.92 L290.9,457.84 L291.3,466.53 L291.7,473.62 L292.1,478.71 L292.5,481.44 L292.9,481.45 L293.3,478.76 L293.7,473.78 L294.1,466.91 L294.5,458.56 L294.9,449.14 L295.3,439.06 L295.7,428.72 L296.1,418.53 L296.5,408.91 L296.9,400.26 L297.3,392.98 L297.7,387.49 L298.1,384.19 L298.5,383.54 L298.9,386.2 L299.3,390.42 L299.7,393.78 L300.1,394.92 L300.5,395.51 L300.9,396.18 L301.3,397.85 L301.7,403.09 L302.1,411.53 L302.5,422.34 L302.9,434.71 L303.3,447.79 L303.7,460.76 L304.1,472.79 L304.5,483.05 L304.9,490.71 L305.3,494.93 L305.7,495.14 L306.1,492.42 L306.5,487.38 L306.9,480.45 L307.3,472.05 L307.7,462.59 L308.1,452.5 L308.5,442.2 L308.9,432.11 L309.3,422.65 L309.7,414.25 L310.1,407.32 L310.5,402.28 L310.9,399.56 L311.3,399.32 L311.7,400.29 L312.1,402.23 L312.5,405.13 L312.9,409.01 L313.3,413.86 L313.7,419.69 L314.1,426.49 L314.5,434.26 L314.9,443.01 L315.3,452.74 L315.7,463.44 L316.1,475.13 L316.5,487.79 L316.9,501.44 L317,505" fill="none" stroke="#0000ff" stroke-width="1.4" stroke-linejoin="round" clip-path="url(#clipc)"/>
<path d="M65.7,434.99 L66.75,427.7 L67.79,420.65 L68.84,413.88 L69.89,407.47 L70.94,401.46 L71.98,395.9 L73.03,390.83 L74.08,386.3 L75.12,382.35 L76.17,379 L77.22,376.29 L78.27,374.23 L79.31,372.84 L80.36,372.14 L81.41,372.13 L82.45,372.81 L83.5,374.17 L84.55,376.21 L85.59,378.9 L86.64,382.23 L87.69,386.16 L88.74,390.67 L89.78,395.72 L90.83,401.27 L91.88,407.27 L92.92,413.67 L93.97,420.42 L95.02,427.46 L96.07,434.75 L97.11,442.21 L98.16,449.79 L99.21,457.42 L100.25,465.05 L101.3,472.61 L102.35,480.03 L103.4,487.27 L104.44,494.25 L105.49,500.92 L106.54,507.23 L107.58,513.13 L108.63,518.57 L109.68,523.49 L110.72,527.87 L111.77,531.67 L112.82,534.85 L113.87,537.39 L114.91,539.28 L115.96,540.48 L117.01,541 L118.05,540.83 L119.1,539.97 L120.15,538.42 L121.2,536.21 L122.24,533.35 L123.29,529.85 L124.34,525.76 L125.38,521.11 L126.43,515.92 L127.48,510.25 L128.53,504.14 L129.57,497.64 L130.62,490.81 L131.67,483.69 L132.71,476.36 L133.76,468.86 L134.81,461.26 L135.85,453.62 L136.9,446 L137.95,438.48 L139,431.1 L140.04,423.92 L141.09,417.02 L142.14,410.43 L143.18,404.23 L144.23,398.45 L145.28,393.14 L146.33,388.36 L147.37,384.13 L148.42,380.49 L149.47,377.48 L150.51,375.11 L151.56,373.41 L152.61,372.38 L153.66,372.05 L154.7,372.4 L155.75,373.45 L156.8,375.17 L157.84,377.56 L158.89,380.59 L159.94,384.24 L160.98,388.49 L162.03,393.29 L163.08,398.61 L164.13,404.4 L165.17,410.62 L166.22,417.21 L167.27,424.12 L168.31,431.3 L169.36,438.69 L170.41,446.22 L171.46,453.84 L172.5,461.48 L173.55,469.07 L174.6,476.57 L175.64,483.9 L176.69,491.01 L177.74,497.83 L178.79,504.32 L179.83,510.42 L180.88,516.08 L181.93,521.25 L182.97,525.89 L184.02,529.96 L185.07,533.44 L186.11,536.28 L187.16,538.48 L188.21,540 L189.26,540.84 L190.3,540.99 L191.35,540.46 L192.4,539.23 L193.44,537.33 L194.49,534.77 L195.54,531.57 L196.59,527.76 L197.63,523.36 L198.68,518.42 L199.73,512.97 L200.77,507.06 L201.82,500.74 L202.87,494.05 L203.92,487.06 L204.96,479.82 L206.01,472.39 L207.06,464.83 L208.1,457.2 L209.15,449.57 L210.2,441.99 L211.24,434.54 L212.29,427.26 L213.34,420.22 L214.39,413.48 L215.43,407.09 L216.48,401.1 L217.53,395.57 L218.57,390.54 L219.62,386.04 L220.67,382.12 L221.72,378.81 L222.76,376.14 L223.81,374.12 L224.86,372.78 L225.9,372.12 L226.95,372.15 L228,372.87 L229.05,374.28 L230.09,376.35 L231.14,379.09 L232.19,382.45 L233.23,386.42 L234.28,390.97 L235.33,396.05 L236.37,401.63 L237.42,407.65 L238.47,414.07 L239.52,420.84 L240.56,427.91 L241.61,435.2 L242.66,442.67 L243.7,450.26 L244.75,457.89 L245.8,465.52 L246.85,473.07 L247.89,480.48 L248.94,487.71 L249.99,494.67 L251.03,501.32 L252.08,507.61 L253.13,513.48 L254.18,518.89 L255.22,523.78 L256.27,528.12 L257.32,531.88 L258.36,535.03 L259.41,537.53 L260.46,539.37 L261.5,540.53 L262.55,541.01 L263.6,540.79 L264.65,539.89 L265.69,538.31 L266.74,536.05 L267.79,533.15 L268.83,529.62 L269.88,525.49 L270.93,520.8 L271.98,515.59 L273.02,509.89 L274.07,503.75 L275.12,497.23 L276.16,490.38 L277.21,483.25 L278.26,475.9 L279.31,468.39 L280.35,460.79 L281.4,453.15 L282.45,445.54 L283.49,438.02 L284.54,430.65 L285.59,423.49 L286.63,416.6 L287.68,410.04 L288.73,403.86 L289.78,398.11 L290.82,392.83 L291.87,388.08 L292.92,383.89 L293.96,380.29 L295.01,377.31 L296.06,374.99 L297.11,373.32 L298.15,372.34 L299.2,372.05 L300.25,372.45 L301.29,373.53 L302.34,375.3 L303.39,377.72 L304.44,380.8 L305.48,384.49 L306.53,388.77 L307.58,393.6 L308.62,398.95 L309.67,404.77 L310.72,411.01 L311.76,417.63 L312.81,424.56 L313.86,431.75 L314.91,439.15 L315.95,446.69 L317,454.31" fill="none" stroke="#ff0000" stroke-width="4.2" stroke-linejoin="round" clip-path="url(#clipc)"/>
<text x="58.2" y="374.9" font-size="21.5" text-anchor="end">20</text>
<text x="58.2" y="443.7" font-size="21.5" text-anchor="end">10</text>
<text x="58.2" y="512.5" font-size="21.5" text-anchor="end">0</text>
<text x="58.2" y="581.3" font-size="21.5" text-anchor="end">-10</text>
<text x="65.7" y="603" font-size="21.5" text-anchor="middle">0</text>
<text x="191.35" y="603" font-size="21.5" text-anchor="middle">0.01</text>
<text x="317" y="603" font-size="21.5" text-anchor="middle">0.02</text>
<text x="112.85" y="633.2" font-size="23.5">Milling time <tspan dx="0">(</tspan><tspan font-style="italic" dx="2.6">s</tspan><tspan dx="0.8">)</tspan></text>
<text transform="translate(17,468.3) rotate(-90)" font-size="23.7" text-anchor="middle">Force (N)</text>
<text x="189.85" y="354.1" font-size="23.7" font-weight="bold" text-anchor="middle">(c) Pass #111</text>
<clipPath id="clipd"><rect x="397" y="363.5" width="270" height="209.6"/></clipPath>
<rect x="400" y="364" width="264" height="208.6" fill="none" stroke="#000" stroke-width="1.3"/>
<path d="M400,572.6 V569.6 M400,364 V367 M532,572.6 V569.6 M532,364 V367 M664,572.6 V569.6 M664,364 V367 M400,365.6 H403 M664,365.6 H661 M400,434.6 H403 M664,434.6 H661 M400,503.6 H403 M664,503.6 H661 M400,572.6 H403 M664,572.6 H661" stroke="#000" stroke-width="1.3" fill="none"/>
<path d="M400,412.5 L400.4,426.48 L400.8,439.58 L401.2,451.81 L401.6,463.17 L402,473.67 L402.4,483.32 L402.8,492.11 L403.2,500.06 L403.6,507.16 L404,513.44 L404.4,518.88 L404.8,523.51 L405.2,527.31 L405.6,530.31 L406,532.5 L406.4,533.88 L406.8,534.48 L407.2,533.78 L407.6,530.72 L408,525.58 L408.4,518.68 L408.8,510.35 L409.2,500.92 L409.6,490.71 L410,480.05 L410.4,469.26 L410.8,458.68 L411.2,448.64 L411.6,439.45 L412,431.44 L412.4,424.96 L412.8,420.31 L413.2,417.83 L413.6,417.8 L414,420.07 L414.4,424.3 L414.8,430.14 L415.2,437.27 L415.6,445.36 L416,454.08 L416.4,463.08 L416.8,472.04 L417.2,480.63 L417.6,488.51 L418,495.35 L418.4,500.83 L418.8,504.59 L419.2,506.32 L419.6,505.24 L420,500.42 L420.4,492.44 L420.8,481.95 L421.2,469.61 L421.6,456.05 L422,441.93 L422.4,427.88 L422.8,414.57 L423.2,402.63 L423.6,392.71 L424,385.46 L424.4,381.52 L424.8,381.27 L425.2,383.36 L425.6,387.31 L426,392.9 L426.4,399.91 L426.8,408.11 L427.2,417.27 L427.6,427.17 L428,437.57 L428.4,448.26 L428.8,459.01 L429.2,469.58 L429.6,479.76 L430,489.32 L430.4,498.02 L430.8,505.66 L431.2,511.99 L431.6,516.79 L432,519.83 L432.4,520.9 L432.8,519.84 L433.2,516.84 L433.6,512.22 L434,506.25 L434.4,499.25 L434.8,491.51 L435.2,483.32 L435.6,474.98 L436,466.79 L436.4,459.05 L436.8,452.05 L437.2,446.08 L437.6,441.46 L438,438.46 L438.4,437.4 L438.8,437.67 L439.2,438.4 L439.6,439.45 L440,440.7 L440.4,443.4 L440.8,448.53 L441.2,455.59 L441.6,464.04 L442,473.36 L442.4,483.02 L442.8,492.51 L443.2,501.3 L443.6,508.87 L444,514.69 L444.4,518.24 L444.8,518.99 L445.2,516.56 L445.6,511.31 L446,503.76 L446.4,494.45 L446.8,483.89 L447.2,472.61 L447.6,461.13 L448,449.98 L448.4,439.69 L448.8,430.77 L449.2,423.75 L449.6,419.15 L450,417.5 L450.4,418.7 L450.8,422.13 L451.2,427.52 L451.6,434.61 L452,443.13 L452.4,452.81 L452.8,463.38 L453.2,474.59 L453.6,486.17 L454,497.84 L454.4,509.35 L454.8,520.43 L455.2,530.81 L455.6,540.22 L456,548.41 L456.4,555.09 L456.8,560.02 L457.2,562.92 L457.6,563.5 L458,561.24 L458.4,556.34 L458.8,549.23 L459.2,540.35 L459.6,530.15 L460,519.07 L460.4,507.55 L460.8,496.03 L461.2,484.95 L461.6,474.75 L462,465.87 L462.4,458.76 L462.8,453.86 L463.2,451.6 L463.6,451.69 L464,452.47 L464.4,453.8 L464.8,455.58 L465.2,457.73 L465.6,460.18 L466,462.83 L466.4,465.6 L466.8,468.72 L467.2,473.82 L467.6,480.52 L468,488.12 L468.4,495.92 L468.8,503.21 L469.2,509.29 L469.6,513.46 L470,515 L470.4,513.36 L470.8,508.8 L471.2,501.81 L471.6,492.91 L472,482.61 L472.4,471.42 L472.8,459.85 L473.2,448.4 L473.6,437.59 L474,427.93 L474.4,419.92 L474.8,414.08 L475.2,410.92 L475.6,410.76 L476,412.76 L476.4,416.55 L476.8,421.88 L477.2,428.54 L477.6,436.29 L478,444.9 L478.4,454.14 L478.8,463.79 L479.2,473.61 L479.6,483.37 L480,492.84 L480.4,501.8 L480.8,510.01 L481.2,517.24 L481.6,523.27 L482,527.85 L482.4,530.78 L482.8,531.8 L483.2,530.51 L483.6,526.85 L484,521.18 L484.4,513.83 L484.8,505.15 L485.2,495.49 L485.6,485.18 L486,474.57 L486.4,464 L486.8,453.82 L487.2,444.37 L487.6,436 L488,429.03 L488.4,423.83 L488.8,420.74 L489.2,420.06 L489.6,421.44 L490,424.45 L490.4,428.85 L490.8,434.41 L491.2,440.87 L491.6,448 L492,455.55 L492.4,463.29 L492.8,470.96 L493.2,478.33 L493.6,485.16 L494,491.2 L494.4,496.21 L494.8,499.95 L495.2,502.17 L495.6,502.54 L496,498.87 L496.4,491.04 L496.8,479.91 L497.2,466.37 L497.6,451.29 L498,435.55 L498.4,420.04 L498.8,405.62 L499.2,393.17 L499.6,383.58 L500,377.72 L500.4,376.37 L500.8,378.02 L501.2,381.67 L501.6,387.09 L502,394.05 L502.4,402.32 L502.8,411.67 L503.2,421.86 L503.6,432.65 L504,443.83 L504.4,455.15 L504.8,466.38 L505.2,477.29 L505.6,487.66 L506,497.23 L506.4,505.79 L506.8,513.1 L507.2,518.93 L507.6,523.05 L508,525.22 L508.4,525.19 L508.8,522.86 L509.2,518.51 L509.6,512.5 L510,505.17 L510.4,496.85 L510.8,487.89 L511.2,478.64 L511.6,469.42 L512,460.59 L512.4,452.49 L512.8,445.46 L513.2,439.83 L513.6,435.96 L514,434.18 L514.4,434.12 L514.8,434.19 L515.2,434.31 L515.6,434.46 L516,435.43 L516.4,438.95 L516.8,444.65 L517.2,452.06 L517.6,460.72 L518,470.18 L518.4,479.98 L518.8,489.64 L519.2,498.72 L519.6,506.74 L520,513.26 L520.4,517.8 L520.8,519.91 L521.2,518.91 L521.6,514.38 L522,506.99 L522.4,497.39 L522.8,486.26 L523.2,474.3 L523.6,462.16 L524,450.53 L524.4,440.08 L524.8,431.5 L525.2,425.45 L525.6,422.63 L526,423.07 L526.4,425.49 L526.8,429.61 L527.2,435.23 L527.6,442.14 L528,450.12 L528.4,458.97 L528.8,468.48 L529.2,478.43 L529.6,488.62 L530,498.83 L530.4,508.87 L530.8,518.5 L531.2,527.54 L531.6,535.76 L532,542.95 L532.4,548.91 L532.8,553.43 L533.2,556.3 L533.6,557.3 L534,555.91 L534.4,551.99 L534.8,545.95 L535.2,538.18 L535.6,529.07 L536,519.02 L536.4,508.43 L536.8,497.69 L537.2,487.2 L537.6,477.35 L538,468.54 L538.4,461.16 L538.8,455.61 L539.2,452.29 L539.6,451.53 L540,452.25 L540.4,453.79 L540.8,456.04 L541.2,458.83 L541.6,462.03 L542,465.5 L542.4,469.1 L542.8,473.59 L543.2,480.6 L543.6,489.21 L544,498.38 L544.4,507.06 L544.8,514.23 L545.2,518.84 L545.6,519.89 L546,517.3 L546.4,511.7 L546.8,503.6 L547.2,493.54 L547.6,482.03 L548,469.61 L548.4,456.79 L548.8,444.1 L549.2,432.07 L549.6,421.22 L550,412.07 L550.4,405.16 L550.8,401 L551.2,400.07 L551.6,401.76 L552,405.48 L552.4,410.99 L552.8,418.03 L553.2,426.35 L553.6,435.68 L554,445.78 L554.4,456.39 L554.8,467.25 L555.2,478.11 L555.6,488.72 L556,498.82 L556.4,508.15 L556.8,516.47 L557.2,523.51 L557.6,529.02 L558,532.74 L558.4,534.43 L558.8,533.79 L559.2,530.77 L559.6,525.7 L560,518.9 L560.4,510.68 L560.8,501.38 L561.2,491.31 L561.6,480.79 L562,470.16 L562.4,459.72 L562.8,449.81 L563.2,440.75 L563.6,432.85 L564,426.45 L564.4,421.87 L564.8,419.42 L565.2,419.35 L565.6,421.28 L566,424.87 L566.4,429.88 L566.8,436.03 L567.2,443.07 L567.6,450.73 L568,458.75 L568.4,466.87 L568.8,474.83 L569.2,482.36 L569.6,489.2 L570,495.09 L570.4,499.77 L570.8,502.97 L571.2,504.44 L571.6,503.26 L572,498.12 L572.4,489.64 L572.8,478.51 L573.2,465.45 L573.6,451.16 L574,436.33 L574.4,421.69 L574.8,407.92 L575.2,395.74 L575.6,385.85 L576,378.95 L576.4,375.74 L576.8,376.3 L577.2,379.3 L577.6,384.38 L578,391.28 L578.4,399.73 L578.8,409.45 L579.2,420.16 L579.6,431.59 L580,443.47 L580.4,455.52 L580.8,467.47 L581.2,479.04 L581.6,489.96 L582,499.95 L582.4,508.74 L582.8,516.05 L583.2,521.62 L583.6,525.16 L584,526.4 L584.4,525.51 L584.8,522.97 L585.2,519 L585.6,513.81 L586,507.63 L586.4,500.67 L586.8,493.14 L587.2,485.26 L587.6,477.24 L588,469.31 L588.4,461.67 L588.8,454.54 L589.2,448.15 L589.6,442.69 L590,438.4 L590.4,435.48 L590.8,434.16 L591.2,434.75 L591.6,437.48 L592,442.03 L592.4,448.07 L592.8,455.26 L593.2,463.29 L593.6,471.81 L594,480.49 L594.4,489.01 L594.8,497.04 L595.2,504.23 L595.6,510.27 L596,514.82 L596.4,517.55 L596.8,518.09 L597.2,515.65 L597.6,510.39 L598,502.86 L598.4,493.58 L598.8,483.09 L599.2,471.93 L599.6,460.64 L600,449.75 L600.4,439.8 L600.8,431.32 L601.2,424.86 L601.6,420.94 L602,420.07 L602.4,421.73 L602.8,425.39 L603.2,430.82 L603.6,437.77 L604,445.99 L604.4,455.25 L604.8,465.3 L605.2,475.9 L605.6,486.81 L606,497.77 L606.4,508.55 L606.8,518.91 L607.2,528.59 L607.6,537.37 L608,544.98 L608.4,551.2 L608.8,555.78 L609.2,558.47 L609.6,559.01 L610,556.9 L610.4,552.31 L610.8,545.64 L611.2,537.28 L611.6,527.63 L612,517.08 L612.4,506.04 L612.8,494.9 L613.2,484.06 L613.6,473.91 L614,464.85 L614.4,457.29 L614.8,451.61 L615.2,448.21 L615.6,447.43 L616,448.15 L616.4,449.73 L616.8,452.04 L617.2,454.95 L617.6,458.33 L618,462.05 L618.4,465.98 L618.8,470 L619.2,475.76 L619.6,484.12 L620,493.73 L620.4,503.26 L620.8,511.34 L621.2,516.65 L621.6,517.89 L622,515.4 L622.4,509.99 L622.8,502.18 L623.2,492.46 L623.6,481.36 L624,469.37 L624.4,457 L624.8,444.76 L625.2,433.15 L625.6,422.67 L626,413.85 L626.4,407.18 L626.8,403.16 L627.2,402.26 L627.6,403.75 L628,407.04 L628.4,411.93 L628.8,418.2 L629.2,425.65 L629.6,434.04 L630,443.18 L630.4,452.86 L630.8,462.85 L631.2,472.95 L631.6,482.94 L632,492.62 L632.4,501.76 L632.8,510.15 L633.2,517.6 L633.6,523.87 L634,528.76 L634.4,532.05 L634.8,533.54 L635.2,532.87 L635.6,529.79 L636,524.62 L636.4,517.7 L636.8,509.38 L637.2,499.99 L637.6,489.87 L638,479.37 L638.4,468.83 L638.8,458.59 L639.2,448.98 L639.6,440.36 L640,433.06 L640.4,427.42 L640.8,423.79 L641.2,422.5 L641.6,423.5 L642,426.3 L642.4,430.65 L642.8,436.26 L643.2,442.86 L643.6,450.18 L644,457.94 L644.4,465.88 L644.8,473.71 L645.2,481.16 L645.6,487.97 L646,493.85 L646.4,498.54 L646.8,501.76 L647.2,503.24 L647.6,501.85 L648,495.89 L648.4,486.14 L648.8,473.54 L649.2,459 L649.6,443.42 L650,427.73 L650.4,412.85 L650.8,399.67 L651.2,389.13 L651.6,382.14 L652,379.6 L652.4,380.68 L652.8,383.76 L653.2,388.63 L653.6,395.05 L654,402.82 L654.4,411.7 L654.8,421.47 L655.2,431.91 L655.6,442.79 L656,453.9 L656.4,465.01 L656.8,475.89 L657.2,486.33 L657.6,496.1 L658,504.98 L658.4,512.75 L658.8,519.17 L659.2,524.04 L659.6,527.12 L660,528.2 L660.4,527.25 L660.8,524.5 L661.2,520.1 L661.6,514.18 L662,506.9 L662.4,498.39 L662.8,488.8 L663.2,478.28 L663.6,466.96 L664,455" fill="none" stroke="#0000ff" stroke-width="1.4" stroke-linejoin="round" clip-path="url(#clipd)"/>
<path d="M400,483.14 L401.1,476.39 L402.2,469.59 L403.3,462.8 L404.4,456.08 L405.5,449.47 L406.6,443.05 L407.7,436.85 L408.8,430.92 L409.9,425.33 L411,420.1 L412.1,415.29 L413.2,410.94 L414.3,407.07 L415.4,403.73 L416.5,400.93 L417.6,398.71 L418.7,397.08 L419.8,396.04 L420.9,395.63 L422,395.82 L423.1,396.63 L424.2,398.05 L425.3,400.06 L426.4,402.65 L427.5,405.79 L428.6,409.47 L429.7,413.65 L430.8,418.3 L431.9,423.38 L433,428.85 L434.1,434.66 L435.2,440.76 L436.3,447.11 L437.4,453.66 L438.5,460.34 L439.6,467.12 L440.7,473.92 L441.8,480.69 L442.9,487.39 L444,493.95 L445.1,500.32 L446.2,506.45 L447.3,512.29 L448.4,517.79 L449.5,522.9 L450.6,527.59 L451.7,531.82 L452.8,535.54 L453.9,538.74 L455,541.38 L456.1,543.45 L457.2,544.92 L458.3,545.78 L459.4,546.03 L460.5,545.67 L461.6,544.69 L462.7,543.11 L463.8,540.94 L464.9,538.2 L466,534.9 L467.1,531.08 L468.2,526.77 L469.3,522 L470.4,516.81 L471.5,511.25 L472.6,505.35 L473.7,499.18 L474.8,492.77 L475.9,486.18 L477,479.47 L478.1,472.68 L479.2,465.88 L480.3,459.12 L481.4,452.46 L482.5,445.94 L483.6,439.63 L484.7,433.58 L485.8,427.83 L486.9,422.43 L488,417.43 L489.1,412.86 L490.2,408.77 L491.3,405.18 L492.4,402.13 L493.5,399.65 L494.6,397.74 L495.7,396.44 L496.8,395.74 L497.9,395.66 L499,396.19 L500.1,397.33 L501.2,399.07 L502.3,401.4 L503.4,404.3 L504.5,407.74 L505.6,411.69 L506.7,416.13 L507.8,421.02 L508.9,426.32 L510,431.98 L511.1,437.95 L512.2,444.2 L513.3,450.66 L514.4,457.29 L515.5,464.03 L516.6,470.82 L517.7,477.62 L518.8,484.36 L519.9,490.99 L521,497.45 L522.1,503.7 L523.2,509.67 L524.3,515.33 L525.4,520.63 L526.5,525.52 L527.6,529.96 L528.7,533.91 L529.8,537.35 L530.9,540.25 L532,542.58 L533.1,544.32 L534.2,545.46 L535.3,545.99 L536.4,545.91 L537.5,545.21 L538.6,543.91 L539.7,542 L540.8,539.52 L541.9,536.47 L543,532.88 L544.1,528.79 L545.2,524.22 L546.3,519.22 L547.4,513.82 L548.5,508.07 L549.6,502.02 L550.7,495.71 L551.8,489.19 L552.9,482.53 L554,475.77 L555.1,468.97 L556.2,462.18 L557.3,455.47 L558.4,448.88 L559.5,442.47 L560.6,436.3 L561.7,430.4 L562.8,424.84 L563.9,419.65 L565,414.88 L566.1,410.57 L567.2,406.75 L568.3,403.45 L569.4,400.71 L570.5,398.54 L571.6,396.96 L572.7,395.98 L573.8,395.62 L574.9,395.87 L576,396.73 L577.1,398.2 L578.2,400.27 L579.3,402.91 L580.4,406.11 L581.5,409.83 L582.6,414.06 L583.7,418.75 L584.8,423.86 L585.9,429.36 L587,435.2 L588.1,441.33 L589.2,447.7 L590.3,454.26 L591.4,460.96 L592.5,467.73 L593.6,474.53 L594.7,481.31 L595.8,487.99 L596.9,494.54 L598,500.89 L599.1,506.99 L600.2,512.8 L601.3,518.27 L602.4,523.35 L603.5,528 L604.6,532.18 L605.7,535.86 L606.8,539 L607.9,541.59 L609,543.6 L610.1,545.02 L611.2,545.83 L612.3,546.02 L613.4,545.61 L614.5,544.57 L615.6,542.94 L616.7,540.72 L617.8,537.92 L618.9,534.58 L620,530.71 L621.1,526.36 L622.2,521.55 L623.3,516.32 L624.4,510.73 L625.5,504.8 L626.6,498.6 L627.7,492.18 L628.8,485.57 L629.9,478.85 L631,472.06 L632.1,465.26 L633.2,458.51 L634.3,451.86 L635.4,445.36 L636.5,439.07 L637.6,433.04 L638.7,427.32 L639.8,421.96 L640.9,416.99 L642,412.47 L643.1,408.42 L644.2,404.88 L645.3,401.88 L646.4,399.45 L647.5,397.6 L648.6,396.35 L649.7,395.71 L650.8,395.68 L651.9,396.27 L653,397.46 L654.1,399.26 L655.2,401.64 L656.3,404.59 L657.4,408.08 L658.5,412.08 L659.6,416.56 L660.7,421.49 L661.8,426.82 L662.9,432.51 L664,438.51" fill="none" stroke="#ff0000" stroke-width="4.2" stroke-linejoin="round" clip-path="url(#clipd)"/>
<text x="392.5" y="374.3" font-size="21.5" text-anchor="end">40</text>
<text x="392.5" y="443.3" font-size="21.5" text-anchor="end">20</text>
<text x="392.5" y="512.3" font-size="21.5" text-anchor="end">0</text>
<text x="392.5" y="581.3" font-size="21.5" text-anchor="end">-20</text>
<text x="400" y="603" font-size="21.5" text-anchor="middle">0</text>
<text x="532" y="603" font-size="21.5" text-anchor="middle">0.01</text>
<text x="664" y="603" font-size="21.5" text-anchor="middle">0.02</text>
<text x="453.5" y="633.2" font-size="23.5">Milling time <tspan dx="0">(</tspan><tspan font-style="italic" dx="2.6">s</tspan><tspan dx="0.8">)</tspan></text>
<text transform="translate(352.6,468.3) rotate(-90)" font-size="23.7" text-anchor="middle">Force (N)</text>
<text x="532.3" y="354.1" font-size="23.7" font-weight="bold" text-anchor="middle">(d) Pass #161</text>
<path d="M244,9.6 H315" stroke="#0000ff" stroke-width="1.2"/>
<path d="M366,10 H437" stroke="#ff0000" stroke-width="3.8"/>
<text x="320" y="13.8" font-size="21.5" font-style="italic">F</text>
<text x="333.3" y="22.7" font-size="16">E<tspan font-style="italic">x</tspan></text>
<text x="442" y="13.8" font-size="21.5" font-style="italic">F</text>
<text x="455.3" y="22.7" font-size="16">P<tspan font-style="italic">x</tspan></text>
</svg></body></html>
